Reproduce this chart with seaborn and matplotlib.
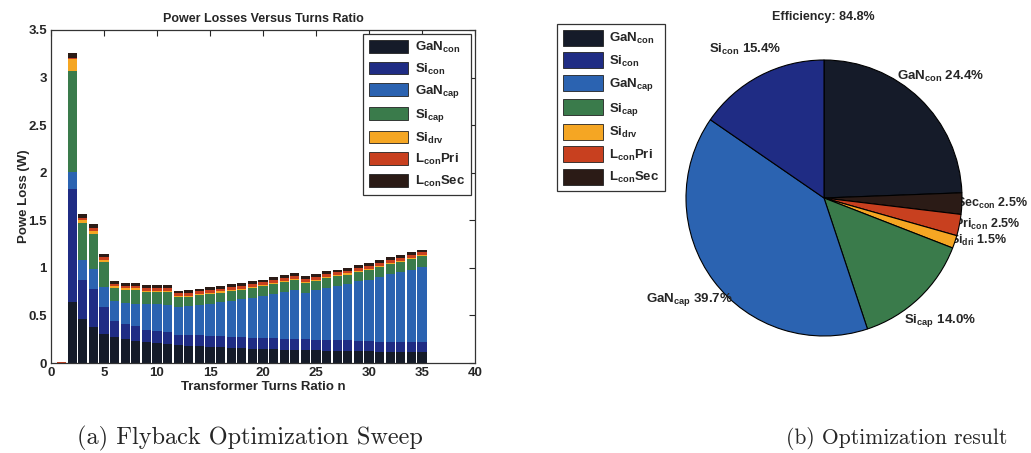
import matplotlib
matplotlib.use("Agg")
import matplotlib.pyplot as plt
import matplotlib.patches as mpatches
import seaborn as sns
import numpy as np
import pandas as pd

# ---- data ----
turns = list(range(1, 36))

gan_con = [0.00, 0.64, 0.46, 0.38, 0.31, 0.27, 0.25, 0.23, 0.22, 0.21, 0.20,
           0.19, 0.18, 0.175, 0.17, 0.165, 0.16, 0.155, 0.15, 0.15, 0.145, 0.14,
           0.14, 0.14, 0.135, 0.13, 0.13, 0.13, 0.125, 0.125, 0.12, 0.12, 0.12,
           0.115, 0.115]
si_con = [0.00, 1.19, 0.41, 0.40, 0.28, 0.17, 0.16, 0.16, 0.13, 0.13, 0.13,
          0.10, 0.115, 0.115, 0.115, 0.115, 0.115, 0.115, 0.115, 0.115, 0.115,
          0.11, 0.11, 0.11, 0.11, 0.11, 0.11, 0.11, 0.105, 0.105, 0.105, 0.105,
          0.105, 0.105, 0.105]
gan_cap = [0.00, 0.18, 0.21, 0.21, 0.21, 0.21, 0.22, 0.23, 0.27, 0.28, 0.28,
           0.30, 0.30, 0.32, 0.34, 0.36, 0.38, 0.40, 0.42, 0.44, 0.47, 0.50,
           0.52, 0.49, 0.52, 0.55, 0.57, 0.59, 0.63, 0.64, 0.68, 0.71, 0.73,
           0.76, 0.79]
si_cap = [0.00, 1.06, 0.39, 0.37, 0.26, 0.14, 0.14, 0.15, 0.13, 0.13, 0.14,
          0.10, 0.10, 0.10, 0.10, 0.10, 0.10, 0.10, 0.10, 0.10, 0.10, 0.10,
          0.10, 0.10, 0.10, 0.10, 0.10, 0.10, 0.10, 0.105, 0.105, 0.105, 0.105,
          0.11, 0.11]
si_drv = [0.00, 0.12, 0.03, 0.03, 0.025, 0.015, 0.015, 0.015, 0.012, 0.012,
          0.012, 0.012, 0.012, 0.012, 0.012, 0.012, 0.012, 0.012, 0.012, 0.012,
          0.012, 0.012, 0.012, 0.012, 0.012, 0.012, 0.012, 0.012, 0.012, 0.012,
          0.012, 0.012, 0.012, 0.012, 0.012]
l_pri = [0.012, 0.02, 0.025, 0.03, 0.025, 0.025, 0.025, 0.025, 0.028, 0.028,
         0.028, 0.03, 0.03, 0.03, 0.03, 0.03, 0.03, 0.03, 0.03, 0.03, 0.03,
         0.03, 0.03, 0.03, 0.03, 0.03, 0.03, 0.03, 0.03, 0.03, 0.03, 0.03,
         0.03, 0.03, 0.03]
l_sec = [0.00, 0.05, 0.04, 0.04, 0.04, 0.035, 0.035, 0.035, 0.035, 0.035,
         0.035, 0.03, 0.03, 0.03, 0.03, 0.03, 0.03, 0.03, 0.03, 0.03, 0.03,
         0.03, 0.03, 0.03, 0.03, 0.03, 0.03, 0.03, 0.03, 0.03, 0.03, 0.03,
         0.03, 0.03, 0.03]

components = ["GaN_con", "Si_con", "GaN_cap", "Si_cap", "Si_drv", "L_pri", "L_sec"]
legend_labels = [r"GaN$_{\mathrm{con}}$", r"Si$_{\mathrm{con}}$", r"GaN$_{\mathrm{cap}}$",
                 r"Si$_{\mathrm{cap}}$", r"Si$_{\mathrm{drv}}$", r"L$_{\mathrm{con}}$Pri",
                 r"L$_{\mathrm{con}}$Sec"]
colors = {"GaN_con": "#151b29", "Si_con": "#1f2c84", "GaN_cap": "#2b63b1",
          "Si_cap": "#3a7b4b", "Si_drv": "#f5a623", "L_pri": "#c8401f",
          "L_sec": "#2b1b16"}

# pie, clockwise from the top
pie_parts = ["GaN_con", "L_sec", "L_pri", "Si_drv", "Si_cap", "GaN_cap", "Si_con"]
pie_names = [r"GaN$_{\mathrm{con}}$", r"Sec$_{\mathrm{con}}$", r"Pri$_{\mathrm{con}}$",
             r"Si$_{\mathrm{dri}}$", r"Si$_{\mathrm{cap}}$", r"GaN$_{\mathrm{cap}}$",
             r"Si$_{\mathrm{con}}$"]
pie_pct = [24.4, 2.5, 2.5, 1.5, 14.0, 39.7, 15.4]
efficiency = 84.8

# ---- style ----
sns.set_style("white")
plt.rcParams["font.family"] = ["Liberation Sans", "DejaVu Sans"]
plt.rcParams["mathtext.fontset"] = "custom"
plt.rcParams["mathtext.rm"] = "Liberation Sans:bold"
plt.rcParams["mathtext.it"] = "Liberation Sans:bold"
plt.rcParams["mathtext.bf"] = "Liberation Sans:bold"

W, H = 1031, 453
fig = plt.figure(figsize=(W / 100, H / 100), dpi=100)
fig.patch.set_facecolor("white")

# ---- left: stacked bars ----
ax = fig.add_axes([51 / W, 1 - 363 / H, (475 - 51) / W, (363 - 30) / H])

series = [gan_con, si_con, gan_cap, si_cap, si_drv, l_pri, l_sec]
df = pd.DataFrame({
    "n": np.tile(turns, len(components)),
    "loss": np.concatenate(series),
    "part": np.repeat(components, len(turns)),
})
# seaborn stacks the last hue level at the bottom
sns.histplot(data=df, x="n", weights="loss", hue="part",
             hue_order=components[::-1], palette=colors, multiple="stack",
             discrete=True, shrink=0.88, alpha=1, linewidth=0,
             edgecolor="none", legend=False, ax=ax)

ax.set_xlim(0, 40)
ax.set_ylim(0, 3.5)
ax.set_xticks(range(0, 41, 5))
ax.set_yticks([0, 0.5, 1, 1.5, 2, 2.5, 3, 3.5])
ax.set_yticklabels(["0", "0.5", "1", "1.5", "2", "2.5", "3", "3.5"])
ax.tick_params(direction="in", top=True, right=True, length=4, width=0.8,
               labelsize=9.5, pad=3)
for lab in ax.get_xticklabels() + ax.get_yticklabels():
    lab.set_fontweight("bold")
for sp in ax.spines.values():
    sp.set_color("#333333")
    sp.set_linewidth(0.9)
ax.set_title("Power Losses Versus Turns Ratio", fontsize=9, fontweight="bold", pad=6)
ax.set_xlabel("Transformer Turns Ratio n", fontsize=9.5, fontweight="bold", labelpad=1)
ax.set_ylabel("Powe Loss (W)", fontsize=9.5, fontweight="bold", labelpad=-1)

handles = [mpatches.Patch(facecolor=colors[c], edgecolor="#222222", linewidth=0.6)
           for c in components]
leg_font = dict(size=9.5, weight="bold")
leg = ax.legend(handles, legend_labels, loc="upper right", prop=leg_font,
                handlelength=3.0, handleheight=1.1, labelspacing=0.5,
                handletextpad=0.5, borderpad=0.45, borderaxespad=0.3,
                fancybox=False, framealpha=1, edgecolor="#333333")
leg.get_frame().set_linewidth(0.9)

# ---- right: pie ----
size = 345
pax = fig.add_axes([(824 - size / 2) / W, 1 - (198 + size / 2) / H, size / W, size / H])
pie_labels = [f"{nm} {p:.1f}%" for nm, p in zip(pie_names, pie_pct)]
wedges, texts = pax.pie(pie_pct, colors=[colors[c] for c in pie_parts],
                        startangle=90, counterclock=False, labels=pie_labels,
                        labeldistance=1.22,
                        wedgeprops=dict(edgecolor="black", linewidth=0.8),
                        textprops=dict(fontsize=9.5, fontweight="bold"))
for w, t, p in zip(wedges, texts, pie_pct):
    mid = np.deg2rad((w.theta1 + w.theta2) / 2)
    if p < 5:
        t.set_position((0.96 * np.cos(mid), 0.96 * np.sin(mid)))
        t.set_ha("left")
        t.set_fontsize(9)
        t.set_zorder(0.5)
    else:
        t.set_ha("center")
    t.set_va("center")

fig.text(823 / W, 1 - 17 / H, f"Efficiency: {efficiency}%", ha="center", va="center",
         fontsize=9, fontweight="bold")

fig.legend(handles, legend_labels, loc="upper left",
           bbox_to_anchor=(557 / W, 1 - 24 / H), prop=leg_font,
           handlelength=3.0, handleheight=1.5, labelspacing=0.45,
           handletextpad=0.5, borderpad=0.45, borderaxespad=0,
           fancybox=False, framealpha=1, edgecolor="#333333").get_frame().set_linewidth(0.9)

# ---- captions ----
fig.text(250 / W, 1 - 438 / H, "(a) Flyback Optimization Sweep", ha="center",
         va="center", fontsize=17.5, family="cmr10")
fig.text(897 / W, 1 - 438 / H, "(b) Optimization result", ha="center",
         va="center", fontsize=15.5, family="cmr10")

fig.savefig("out.png", dpi=100, facecolor="white")
